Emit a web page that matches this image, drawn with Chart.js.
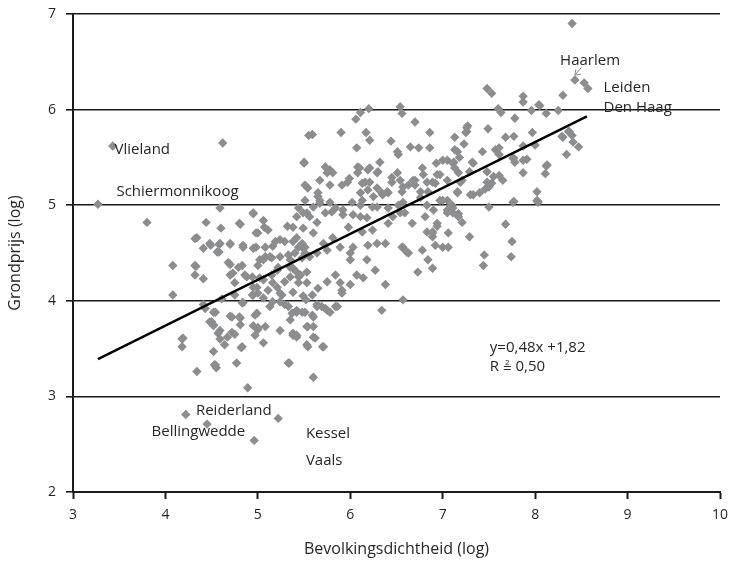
<!DOCTYPE html>
<html>
<head>
<meta charset="utf-8">
<script src="https://cdn.jsdelivr.net/npm/chart.js@4.4.1/dist/chart.umd.min.js"></script>
<style>
  html, body { margin: 0; padding: 0; background: #fff; }
  #wrap { width: 730px; height: 563px; }
</style>
</head>
<body>
<div id="wrap"><canvas id="grondprijsChart"></canvas></div>
<script>
// gemeenten: [bevolkingsdichtheid (log), grondprijs (log)]
const gemeenten = [
  [3.27,5.01],[3.43,5.62],[3.80,4.82],[4.62,5.65],[4.08,4.37],[4.08,4.06],[4.18,3.60],[4.18,3.52],[4.34,3.26],
  [4.22,2.81],[4.45,2.71],[4.96,2.54],[5.22,2.77],[4.89,3.09],[8.40,6.90],[8.43,6.31],[8.53,6.28],[8.57,6.22],[8.30,6.15],
  [7.48,6.22],[7.53,6.17],[7.87,6.14],[7.87,6.08],[8.04,6.05],[7.60,6.01],[7.63,5.97],[7.96,5.99],[8.12,5.96],[8.25,5.99],
  [7.78,5.91],[7.49,5.80],[7.27,5.83],[7.25,5.76],[7.13,5.71],[7.23,5.64],[7.13,5.58],[7.05,5.47],[7.12,5.45],[7.13,5.39],
  [7.17,5.34],[7.32,5.45],[7.43,5.56],[7.57,5.58],[7.61,5.60],[7.68,5.71],[7.77,5.72],[7.97,5.76],[7.87,5.62],[8.00,5.63],
  [7.77,5.49],[7.91,5.48],[8.12,5.41],[8.11,5.33],[7.87,5.34],[8.36,5.77],[8.40,5.73],[8.30,5.71],[8.41,5.66],[8.47,5.61],
  [8.34,5.53],[7.48,5.35],[7.55,5.30],[7.61,5.31],[7.65,5.26],[7.50,5.19],[7.46,5.17],[7.29,5.35],[7.21,5.26],[7.05,5.26],
  [7.16,5.13],[7.30,5.11],[7.33,5.11],[8.02,5.14],[8.03,5.04],[7.77,5.04],[7.50,4.98],[7.00,5.05],[7.10,5.00],[7.05,4.92],
  [7.17,4.91],[7.21,4.82],[7.68,4.80],[7.29,4.67],[7.75,4.62],[7.06,4.56],[7.45,4.48],[7.74,4.46],[7.44,4.37],
  [8.05,6.04],[8.29,5.72],[8.37,5.77],[8.13,5.42],[7.87,5.47],[7.26,5.77],
  [6.11,5.97],[6.20,6.01],[6.54,6.03],[6.56,5.96],[6.06,5.90],[6.70,5.87],[5.59,5.74],[5.90,5.76],[6.17,5.76],[6.21,5.68],
  [6.44,5.67],[6.86,5.76],[7.26,5.81],[5.50,5.45],[6.07,5.60],[6.51,5.56],[6.52,5.53],[6.65,5.61],[6.74,5.60],[6.86,5.60],
  [7.16,5.56],[7.18,5.50],[7.61,5.53],[7.76,5.49],[7.78,5.45],
  [5.73,5.40],[5.75,5.34],[5.78,5.37],[5.81,5.34],[5.67,5.26],[5.78,5.21],[5.54,5.18],[5.65,5.13],[5.97,5.24],[5.91,5.21],
  [6.08,5.40],[6.08,5.34],[6.19,5.37],[6.32,5.45],[6.29,5.34],[6.16,5.24],[6.19,5.16],[6.29,5.18],[6.11,5.13],[6.35,5.11],
  [6.41,5.13],[6.45,5.29],[6.51,5.34],[6.54,5.26],[6.45,5.24],[6.57,5.19],[6.70,5.26],[6.78,5.39],[6.79,5.32],[6.70,5.21],
  [6.83,5.24],[6.89,5.24],[6.92,5.23],[6.84,5.14],[6.76,5.08],[6.97,5.32],[7.11,5.44],[7.33,5.44],[7.19,5.24],[7.48,5.24],
  [7.53,5.23],[6.97,5.05],[7.05,5.05],[6.57,5.03],[6.59,4.92],[6.90,4.95],[7.11,4.92],[7.17,4.88],[7.40,5.13],[8.02,5.05],
  [5.65,5.09],[5.99,5.28],[6.10,5.39],[6.21,5.39],[6.30,5.35],[6.13,5.23],[6.21,5.24],[6.25,5.09],[6.34,5.13],[6.40,5.14],
  [6.11,5.00],[6.29,4.98],[5.67,5.02],[5.49,4.92],[5.56,4.88],[5.64,4.82],[5.49,4.76],[5.60,4.71],[5.80,4.93],[5.84,4.97],
  [5.92,4.90],[6.03,4.90],[5.98,4.77],[6.11,4.88],[6.13,4.72],[6.24,4.74],[6.29,4.60],[6.38,4.60],[6.19,4.58],[6.03,4.56],
  [6.00,4.50],[6.00,4.43],[6.18,4.43],[5.89,4.56],[5.71,4.60],[5.81,4.66],[5.75,4.53],[5.64,4.50],[5.51,4.56],[5.56,4.46],
  [6.41,4.81],[6.46,4.88],[6.54,4.92],[6.52,5.00],[6.67,4.81],[6.57,4.56],[6.63,4.50],[6.41,4.97],[6.56,5.14],[6.63,5.21],
  [6.68,5.26],[6.76,5.14],[6.83,5.00],[6.81,4.88],[6.89,4.72],[6.89,4.67],[6.94,4.81],[6.92,4.58],[6.78,4.53],[6.84,4.43],
  [7.00,4.56],[7.06,4.71],[7.11,4.97],[7.05,4.95],[7.16,5.14],
  [5.50,5.44],[5.51,5.21],[5.55,5.73],[5.44,4.97],[5.53,4.92],[4.59,4.97],[4.95,4.92],[4.44,4.82],[4.60,4.76],[4.81,4.80],
  [5.06,4.84],[4.98,4.71],[5.11,4.74],[5.32,4.78],[5.38,4.77],[5.42,4.88],[4.34,4.66],[4.41,4.55],[4.49,4.58],[4.58,4.59],
  [4.58,4.51],[4.70,4.59],[4.84,4.56],[4.98,4.56],[5.08,4.56],[5.16,4.57],[5.19,4.62],[5.24,4.64],[5.29,4.62],[5.08,4.46],
  [5.02,4.43],[5.15,4.45],[5.24,4.46],[5.33,4.48],[5.42,4.66],[5.48,4.56],[4.33,4.36],[4.32,4.27],[4.41,4.23],[4.70,4.38],
  [4.79,4.35],[4.86,4.27],[4.94,4.25],[4.70,4.27],[4.75,4.19],[4.95,4.14],[5.06,4.22],[5.00,4.08],[5.21,4.32],[5.29,4.20],
  [5.21,4.14],[5.35,4.35],[5.44,4.25],
  [4.43,3.92],[4.54,3.88],[4.48,3.78],[4.52,3.75],[4.70,3.84],[4.80,3.83],[4.83,3.98],[4.61,4.02],[4.81,3.75],[4.57,3.66],
  [4.59,3.60],[4.72,3.67],[4.75,3.65],[4.64,3.54],[4.52,3.47],[4.82,3.51],[4.54,3.33],[4.55,3.30],[4.77,3.35],[4.99,3.87],
  [4.95,3.74],[5.00,3.70],[5.06,3.56],[4.97,3.64],[4.95,4.06],[5.06,4.03],[5.13,3.94],[5.16,3.99],[5.26,4.06],[5.24,3.69],
  [5.29,3.96],[5.35,3.80],[5.37,3.87],[5.33,3.35],[5.38,3.64],[5.42,3.64],[5.42,3.90],[5.48,3.88],[5.53,3.54],[5.54,3.73],
  [5.60,3.62],[5.62,3.61],[5.60,3.83],[5.64,3.96],[5.70,3.52],[5.73,3.92],[5.78,3.88],[5.86,3.94],[5.60,3.20],[5.91,4.08],
  [7.76,5.03],[8.03,5.03],[7.16,4.90],[6.89,4.71],[6.83,4.72],[6.94,4.78],[6.89,4.34],[6.73,4.30],[6.61,4.51],[6.56,4.56],
  [6.57,4.01],[6.34,3.90],[6.38,4.17],[6.27,4.32],[6.14,4.24],[6.07,4.27],[6.00,4.17],[5.91,4.11],[5.89,4.19],[5.84,4.27],
  [5.75,4.20],[5.65,4.13],[5.59,4.06],[5.69,3.94],[5.64,3.94],[5.75,3.90],[5.84,3.94],[5.51,3.88],[5.59,3.85],[5.53,3.73],
  [5.60,3.73],[5.71,3.52],[5.54,3.52],
  [4.80,4.81],[4.95,4.91],[5.00,4.71],[5.07,4.77],[4.32,4.65],[4.48,4.60],[4.59,4.60],[4.70,4.60],[4.84,4.58],[4.95,4.55],
  [4.56,4.51],[4.32,4.37],[4.68,4.40],[4.73,4.29],[4.83,4.37],[4.88,4.25],[5.00,4.37],[5.06,4.43],[5.13,4.46],[5.02,4.24],
  [5.15,4.27],[5.22,4.35],[5.35,4.43],[5.40,4.50],[5.48,4.60],[5.51,4.50],[5.35,4.25],[5.46,4.27],[5.53,4.30],[4.41,3.96],
  [4.52,3.88],[4.75,4.06],[4.84,3.98],[4.94,4.06],[4.99,4.14],[5.11,4.11],[5.16,4.19],[5.24,4.08],[5.38,4.09],[5.44,4.19],
  [5.52,4.01],[5.33,3.94],[5.42,3.88],[5.24,3.99],[4.50,3.78],[4.52,3.74],[4.72,3.83],[4.81,3.82],[4.97,3.85],[5.00,3.72],
  [5.08,3.73],[5.38,3.66],[5.42,3.62],[4.59,3.69],[4.67,3.62],[4.83,3.52],[4.19,3.61],[4.53,3.33],[5.34,3.35],
  [5.51,5.05],[5.60,4.98],[5.67,5.05],[5.78,5.03],[5.73,4.92],[5.92,4.95],[6.02,5.03],[6.13,5.05],[6.24,4.98],[6.18,4.87],
  [5.38,4.62],[5.44,4.56],[5.48,4.45],[5.38,4.34],[5.42,4.30],[5.53,4.19],[5.49,4.05],[6.93,5.44],[7.00,5.47],[6.94,5.32]
];

// regressielijn y = 0,48x + 1,82
const helling = 0.48;
const constante = 1.82;
const lijnX = [3.27, 8.56];

// tekstlabels: [tekst, x, y]
const namen = [
  ['Vlieland', 3.45, 5.58],
  ['Schiermonnikoog', 3.47, 5.14],
  ['Haarlem', 8.27, 6.51],
  ['Leiden', 8.74, 6.23],
  ['Den Haag', 8.74, 6.02],
  ['Reiderland', 4.33, 2.85],
  ['Bellingwedde', 3.85, 2.63],
  ['Kessel', 5.52, 2.61],
  ['Vaals', 5.52, 2.33],
  ['y=0,48x +1,82', 7.51, 3.51]
];
const rKwadraat = ['R', '0,50', 7.51, 3.31];

const xTicks = [3, 4, 5, 6, 7, 8, 9, 10];
const yTicks = [2, 3, 4, 5, 6, 7];

const fontFamily = '"Open Sans", Lato, sans-serif';
const textColor = '#262626';
const gridColor = '#1a1a1a';
const pointColor = '#8c8d8f';

const labelPlugin = {
  id: 'labels',
  afterDatasetsDraw(chart) {
    const { ctx, scales: { x, y } } = chart;
    ctx.save();
    ctx.fillStyle = textColor;
    ctx.font = '15px ' + fontFamily;
    ctx.textBaseline = 'middle';
    ctx.textAlign = 'left';
    namen.forEach(([tekst, vx, vy]) => {
      ctx.fillText(tekst, x.getPixelForValue(vx), y.getPixelForValue(vy));
    });

    // R² = 0,50 with the 2 set above the equals sign
    const rx = x.getPixelForValue(rKwadraat[2]);
    const ry = y.getPixelForValue(rKwadraat[3]);
    ctx.fillText(rKwadraat[0], rx, ry);
    const rw = ctx.measureText(rKwadraat[0] + ' ').width;
    ctx.fillText('=', rx + rw, ry + 2);
    const eqw = ctx.measureText('=').width;
    const ew = ctx.measureText('= ').width;
    ctx.fillText(rKwadraat[1], rx + rw + ew, ry);
    ctx.font = '8px ' + fontFamily;
    ctx.textAlign = 'center';
    ctx.fillText('2', rx + rw + eqw / 2, ry - 4);

    // small arrow from Haarlem to its point
    const ax = x.getPixelForValue(8.5);
    const ay = y.getPixelForValue(6.44);
    const bx = x.getPixelForValue(8.43);
    const by = y.getPixelForValue(6.36);
    ctx.strokeStyle = '#888';
    ctx.lineWidth = 1;
    ctx.beginPath();
    ctx.moveTo(ax, ay);
    ctx.lineTo(bx, by);
    ctx.moveTo(bx, by);
    ctx.lineTo(bx + 6, by - 1);
    ctx.moveTo(bx, by);
    ctx.lineTo(bx + 1, by - 6);
    ctx.stroke();
    ctx.restore();
  }
};

const noEdgePadding = scale => {
  scale.paddingLeft = 0;
  scale.paddingRight = 0;
  scale.paddingTop = 0;
  scale.paddingBottom = 0;
};

new Chart(document.getElementById('grondprijsChart'), {
  type: 'scatter',
  data: {
    datasets: [
      {
        data: gemeenten.map(([dx, dy]) => ({ x: dx, y: dy })),
        backgroundColor: pointColor,
        borderWidth: 0,
        pointRadius: 4.7,
        pointStyle: 'rectRot',
        order: 2
      },
      {
        type: 'line',
        data: lijnX.map(lx => ({ x: lx, y: helling * lx + constante })),
        borderColor: '#000',
        borderWidth: 2.4,
        pointRadius: 0,
        fill: false,
        order: 1
      }
    ]
  },
  options: {
    animation: false,
    responsive: true,
    maintainAspectRatio: false,
    layout: { padding: { top: 14, right: 10, bottom: 0, left: 0 } },
    plugins: {
      legend: { display: false },
      tooltip: { enabled: false }
    },
    scales: {
      x: {
        type: 'linear',
        min: 3,
        max: 10,
        afterBuildTicks: scale => { scale.ticks = xTicks.map(v => ({ value: v })); },
        afterFit: scale => { scale.height = 71; noEdgePadding(scale); },
        border: { color: gridColor, width: 2 },
        grid: {
          drawOnChartArea: false,
          drawTicks: true,
          tickLength: 7,
          tickWidth: 2,
          tickColor: gridColor
        },
        ticks: {
          color: textColor,
          padding: 8,
          font: { family: fontFamily, size: 14 }
        },
        title: {
          display: true,
          text: 'Bevolkingsdichtheid (log)',
          color: textColor,
          padding: { top: 0, bottom: 4 },
          font: { family: fontFamily, size: 16 }
        }
      },
      y: {
        type: 'linear',
        min: 2,
        max: 7,
        afterBuildTicks: scale => { scale.ticks = yTicks.map(v => ({ value: v })); },
        afterFit: scale => { scale.width = 73; noEdgePadding(scale); },
        border: { color: gridColor, width: 2 },
        grid: {
          color: gridColor,
          lineWidth: 1.6,
          drawTicks: true,
          tickLength: 7
        },
        ticks: {
          color: textColor,
          padding: 10,
          font: { family: fontFamily, size: 14 }
        },
        title: {
          display: true,
          text: 'Grondprijs (log)',
          color: textColor,
          padding: { top: 6, bottom: 0 },
          font: { family: fontFamily, size: 16 }
        }
      }
    }
  },
  plugins: [labelPlugin]
});
</script>
</body>
</html>
